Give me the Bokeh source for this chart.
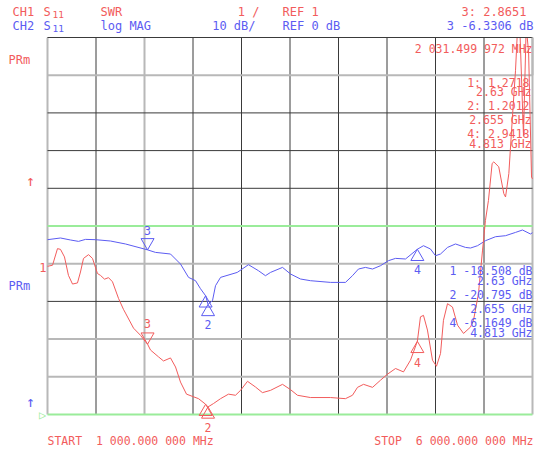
from bokeh.plotting import figure
from bokeh.models import Range1d, Label
from bokeh.embed import file_html
from bokeh.resources import INLINE

# ---------------- data ----------------
# CH1: S11 SWR (1 / div, bottom line = 1)
red_freq = [1000, 1052, 1103, 1134, 1175, 1216, 1258, 1309, 1340, 1371, 1423, 1464,
            1515, 1546, 1588, 1629, 1670, 1732, 1783, 1804, 1887, 1959, 2010, 2031.5,
            2062, 2144, 2196, 2268, 2320, 2371, 2433, 2505, 2557, 2630, 2655, 2711,
            2784, 2866, 2938, 2990, 3062, 3144, 3216, 3299, 3423, 3505, 3577, 3711,
            3918, 4072, 4144, 4196, 4258, 4351, 4433, 4505, 4588, 4670, 4742, 4813,
            4845, 4876, 4917, 4969, 5010, 5052, 5082, 5124, 5175, 5227, 5289, 5361,
            5392, 5443, 5485, 5515, 5546, 5584, 5601, 5652, 5704, 5722, 5756, 5791,
            5825, 5845, 5866, 5907, 5935, 5960, 5990, 6000]
red_swr = [4.93, 4.96, 5.40, 5.38, 5.18, 4.69, 4.46, 4.49, 4.78, 5.14, 5.24, 5.14,
           4.74, 4.69, 4.59, 4.63, 4.52, 4.08, 3.79, 3.69, 3.29, 3.10, 2.93, 2.8651,
           2.71, 2.53, 2.42, 2.50, 2.26, 1.86, 1.54, 1.47, 1.42, 1.2718, 1.2012, 1.29,
           1.42, 1.54, 1.51, 1.64, 1.88, 1.73, 1.58, 1.64, 1.80, 1.66, 1.51, 1.45,
           1.45, 1.42, 1.51, 1.72, 1.80, 1.72, 1.91, 2.07, 2.22, 2.13, 2.44, 2.9418,
           3.59, 3.63, 3.24, 2.44, 2.28, 2.62, 3.50, 3.94, 3.85, 3.37, 3.15, 3.32,
           3.50, 4.21, 5.36, 6.15, 6.68, 7.66, 7.70, 7.57, 6.86, 6.77, 7.39, 8.81,
           10.13, 11.2, 11.5, 8.4, 11.3, 10.6, 7.3, 7.25]

# CH2: S11 log MAG (10 dB / div, REF 0 dB at centre line)
blue_freq = [1000, 1134, 1237, 1320, 1392, 1495, 1649, 1804, 2031.5, 2113, 2268, 2371,
             2454, 2526, 2577, 2630, 2655, 2701, 2732, 2784, 2956, 3072, 3175, 3247,
             3299, 3423, 3505, 3608, 3711, 3918, 4072, 4144, 4206, 4278, 4351, 4433,
             4515, 4588, 4691, 4813, 4876, 4948, 5000, 5052, 5124, 5206, 5309, 5361,
             5433, 5515, 5619, 5722, 5825, 5897, 5979, 6000]
blue_db = [-3.63, -3.18, -3.71, -4.08, -3.55, -3.63, -3.98, -4.77, -6.3306, -7.00, -7.43, -10.08,
           -13.63, -14.51, -16.63, -18.508, -20.795, -19.81, -15.84, -13.63, -12.31, -10.27, -11.86, -13.18,
           -12.31, -10.98, -12.73, -14.06, -14.51, -14.96, -14.96, -13.18, -11.41, -10.98, -11.41, -10.53,
           -9.20, -8.59, -8.75, -6.1649, -5.23, -6.10, -7.88, -7.43, -5.68, -4.77, -5.68, -5.84,
           -5.23, -3.90, -2.84, -2.57, -1.70, -1.06, -2.12, -1.78]

# markers
mk_freq = [2630, 2655, 2031.499972, 4813]
mk_swr = [1.2718, 1.2012, 2.8651, 2.9418]
mk_db = [-18.508, -20.795, -6.3306, -6.1649]
mk_up = [True, True, False, True]   # triangle pointing up (below trace) or down

# grid
x_ticks = [1000 + 500 * i for i in range(11)]
y_ticks = [1 + i for i in range(11)]   # SWR values of the 11 horizontal lines

RED = "#f25c5c"
BLUE = "#5c5cf2"
GREEN = "#9aec9a"
DARK = "#3a3a3a"
GRAY = "#b8b8b8"
FONT = "DejaVu Sans Mono"
NB = "\u00a0"

# ---------------- layout ----------------
W, H = 535, 452
FL, FW, FT, FH = 47.0, 485.0, 37.0, 377.0   # graticule box in page pixels
def px_x(px):
    return 1000 + (px - FL) * 5000.0 / FW
def px_y(py):
    return 1 + (FT + FH - py) * 10.0 / FH

x0, x1 = px_x(0), px_x(W)
y0, y1 = px_y(H), px_y(0)
p = figure(width=W, height=H, output_backend="svg", toolbar_location=None, title=None,
           x_axis_location=None, y_axis_location=None,
           x_range=Range1d(x0, x1), y_range=Range1d(y0, y1),
           min_border_left=0, min_border_right=0, min_border_top=0, min_border_bottom=0)
# dB scale: 0 dB at SWR-6 line, 10 dB per division
p.extra_y_ranges = {"db": Range1d((y0 - 6) * 10, (y1 - 6) * 10)}
p.outline_line_color = None
p.xgrid.visible = False
p.ygrid.visible = False
p.background_fill_color = "white"
p.border_fill_color = "white"

def grid_lines():
    v_style = ["g", "d", "g", "d", "d", "d", "d", "d", "d", "d", "g"]
    h_style = ["G", "g", "g", "d", "g", "G", "d", "d", "d", "g", "d"]  # from bottom upward
    for t, s in zip(x_ticks, v_style):
        col, lw = (GRAY, 2) if s == "g" else (DARK, 1)
        p.segment(x0=[t], y0=[y_ticks[0]], x1=[t], y1=[y_ticks[-1]], line_color=col, line_width=lw)
    for t, s in zip(y_ticks, h_style):
        if s == "G":
            col, lw = GREEN, 2
        elif s == "g":
            col, lw = GRAY, 2
        else:
            col, lw = DARK, 1
        p.segment(x0=[x_ticks[0]], y0=[t], x1=[x_ticks[-1]], y1=[t], line_color=col, line_width=lw)

grid_lines()

# traces
p.line(blue_freq, blue_db, y_range_name="db", line_color=BLUE, line_width=1)
p.line(red_freq, red_swr, line_color=RED, line_width=1)

# white mask above the graticule (the trace is clipped at the top line)
p.quad(left=[x0], right=[x1], bottom=[y_ticks[-1]], top=[y1], fill_color="white", line_color=None)
p.segment(x0=[x_ticks[0]], y0=[y_ticks[-1]], x1=[x_ticks[-1]], y1=[y_ticks[-1]], line_color=DARK, line_width=1)
p.segment(x0=[x_ticks[-1]], y0=[y_ticks[-2]], x1=[x_ticks[-1]], y1=[y_ticks[-1]], line_color=GRAY, line_width=2)

# marker triangles (tip on trace)
MS = 13
tip = 0.577 * MS  # px from centre to tip
for f, s, d, up in zip(mk_freq, mk_swr, mk_db, mk_up):
    mk = "triangle" if up else "inverted_triangle"
    sgn = -1 if up else 1
    p.scatter([f], [s + sgn * tip * 10.0 / FH], marker=mk, size=MS,
              fill_color=None, line_color=RED, line_width=1)
    p.scatter([f], [d + sgn * tip * 100.0 / FH], marker=mk, size=MS,
              fill_color=None, line_color=BLUE, line_width=1, y_range_name="db")

# marker numbers
red_lbl = {"2": (1, -21), "3": (2, 21), "4": (3, -21)}
blue_lbl = {"2": (1, -20), "3": (2, 19), "4": (3, -20)}
for name, (i, off) in red_lbl.items():
    p.add_layout(Label(x=mk_freq[i], y=mk_swr[i], y_offset=off, text=name, text_color=RED,
                       text_font=FONT, text_font_size="11.5px", text_align="center",
                       text_baseline="middle"))
for name, (i, off) in blue_lbl.items():
    p.add_layout(Label(x=mk_freq[i], y=mk_db[i], y_offset=off, y_range_name="db", text=name,
                       text_color=BLUE, text_font=FONT, text_font_size="11.5px",
                       text_align="center", text_baseline="middle"))

# annotation texts: (text, page_x, page_y, align, colour, size)
texts = [
    ("CH1", 12, 11, "left", RED, 12),
    ("S", 43, 11, "left", RED, 12),
    ("11", 52, 14, "left", RED, 9.5),
    ("SWR", 100, 11, "left", RED, 12),
    ("1 /", 259, 11, "right", RED, 12),
    ("REF 1", 282, 11, "left", RED, 12),
    ("3: 2.8651", 526, 11, "right", RED, 12),
    ("CH2", 12, 25, "left", BLUE, 12),
    ("S", 43, 25, "left", BLUE, 12),
    ("11", 52, 28, "left", BLUE, 9.5),
    ("log MAG", 100, 25, "left", BLUE, 12),
    ("10 dB/", 255, 25, "right", BLUE, 12),
    ("REF 0 dB", 282, 25, "left", BLUE, 12),
    ("3 -6.3306 dB", 533, 25, "right", BLUE, 12),
    ("2 031.499 972 MHz", 532, 48, "right", RED, 11.5),
    ("1: 1.2718", 529, 82, "right", RED, 11.5),
    ("2.63 GHz", 531, 91, "right", RED, 11.5),
    ("2: 1.2012", 529, 105, "right", RED, 11.5),
    ("2.655 GHz", 531, 119, "right", RED, 11.5),
    ("4: 2.9418", 529, 133, "right", RED, 11.5),
    ("4.813 GHz", 531, 143, "right", RED, 11.5),
    ("1 -18.508 dB", 532, 270, "right", BLUE, 11.5),
    ("2.63 GHz", 532, 280, "right", BLUE, 11.5),
    ("2 -20.795 dB", 532, 294, "right", BLUE, 11.5),
    ("2.655 GHz", 532, 308, "right", BLUE, 11.5),
    ("4 -6.1649 dB", 532, 322, "right", BLUE, 11.5),
    ("4.813 GHz", 532, 332, "right", BLUE, 11.5),
    ("PRm", 8, 59, "left", RED, 12),
    ("\u2191", 30, 180, "center", RED, 15),
    ("1", 46, 267, "right", RED, 12),
    ("PRm", 8, 285, "left", BLUE, 12),
    ("\u2191", 30, 401, "center", BLUE, 15),
    ("\u25b7", 42, 414, "center", GREEN, 12),
    ("START" + NB + NB + "1 000.000 000 MHz", 47, 440, "left", RED, 11.5),
    ("STOP" + NB + NB + "6 000.000 000 MHz", 533, 440, "right", RED, 11.5),
]
for t, x, y, al, col, sz in texts:
    p.add_layout(Label(x=px_x(x), y=px_y(y), text=t, text_color=col, text_font=FONT,
                       text_font_size="%spx" % sz, text_align=al, text_baseline="middle"))

open("out.html", "w").write(file_html(p, INLINE))
